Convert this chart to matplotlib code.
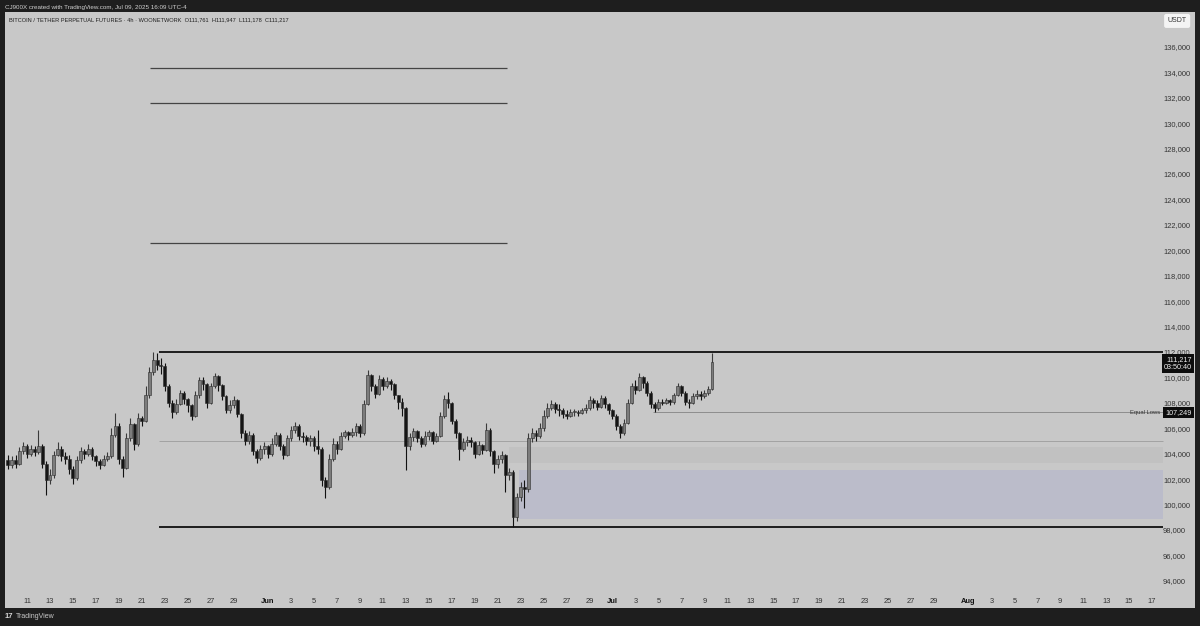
import matplotlib
matplotlib.use("Agg")
import matplotlib.pyplot as plt
import matplotlib.transforms as mtransforms
from datetime import datetime, timedelta

plt.rcParams['font.family'] = ['Liberation Sans', 'DejaVu Sans']

# 8h candles, BTC/USDT perp, prices in thousands of USDT
first_open = 103.5
closes = [
    103.1, 103.5, 103.2, 104.2, 104.6, 104.0, 104.4, 104.1, 104.6, 103.2,
    101.9, 102.3, 103.9, 104.4, 103.8, 103.6, 102.8, 102.1, 103.5, 104.2,
    104.0, 104.4, 103.8, 103.4, 103.1, 103.6, 103.8, 105.5, 106.2, 103.6,
    102.9, 105.2, 106.3, 104.8, 106.8, 106.6, 108.6, 110.4, 111.4, 111.0,
    110.9, 109.3, 108.0, 107.3, 107.9, 108.8, 108.3, 107.8, 107.0, 108.6,
    109.8, 109.5, 108.0, 109.3, 110.1, 109.4, 108.5, 107.4, 107.8, 108.2,
    107.1, 105.6, 105.0, 105.5, 104.2, 103.7, 104.4, 104.6, 104.0, 104.8,
    105.5, 104.6, 103.9, 105.2, 105.9, 106.2, 105.4, 105.3, 105.0, 105.2,
    104.6, 104.4, 101.9, 101.4, 103.6, 104.8, 104.4, 105.4, 105.7, 105.5,
    105.7, 106.2, 105.6, 107.9, 110.2, 109.3, 108.7, 109.9, 109.3, 109.7,
    109.5, 108.6, 108.1, 107.6, 104.6, 105.3, 105.8, 105.2, 104.8, 105.4,
    105.7, 105.0, 105.4, 107.0, 108.3, 108.0, 106.6, 105.6, 104.4, 104.9,
    105.1, 104.9, 104.0, 104.7, 104.3, 105.9, 104.2, 103.2, 103.6, 103.9,
    102.3, 102.6, 99.0, 100.6, 101.4, 101.2, 105.2, 105.6, 105.4, 106.0,
    107.0, 107.6, 107.9, 107.5, 107.4, 107.1, 107.0, 107.3, 107.3, 107.2,
    107.4, 107.6, 108.2, 108.0, 107.7, 108.4, 107.9, 107.4, 107.0, 106.2,
    105.6, 106.4, 108.0, 109.3, 109.0, 110.0, 109.6, 108.8, 107.9, 107.6,
    108.1, 108.0, 108.2, 108.1, 108.6, 109.3, 108.8, 108.1, 108.0, 108.5,
    108.7, 108.5, 108.8, 109.1, 111.217,
]
highs = [
    103.9, 103.8, 103.9, 104.5, 104.95, 104.8, 104.7, 104.6, 105.9, 104.8,
    103.4, 102.8, 104.2, 104.95, 104.6, 104.1, 103.9, 103.0, 103.8, 104.5,
    104.4, 104.8, 104.5, 103.9, 103.6, 103.9, 104.1, 106.0, 107.2, 106.4,
    103.8, 105.6, 106.8, 106.4, 107.2, 107.0, 109.3, 110.8, 111.98, 111.9,
    111.5, 111.1, 109.5, 108.2, 108.3, 109.0, 108.9, 108.4, 107.9, 108.9,
    110.0, 110.0, 109.6, 109.6, 110.35, 110.2, 109.5, 108.6, 108.2, 108.5,
    108.3, 107.2, 105.9, 105.8, 105.6, 104.4, 104.7, 104.9, 104.7, 105.2,
    105.7, 105.6, 104.8, 105.5, 106.2, 106.5, 106.3, 105.7, 105.5, 105.5,
    105.4, 105.9, 104.5, 102.2, 104.0, 105.2, 105.0, 105.7, 105.9, 105.8,
    106.0, 106.4, 106.3, 108.2, 110.6, 110.3, 109.5, 110.2, 110.0, 110.0,
    109.9, 109.6, 108.6, 108.4, 107.7, 105.6, 106.0, 105.9, 105.4, 105.8,
    105.9, 105.8, 105.6, 107.3, 108.6, 108.85, 108.1, 106.7, 105.7, 105.2,
    105.4, 105.3, 105.0, 105.0, 104.8, 106.4, 106.0, 104.3, 103.9, 104.2,
    104.0, 102.9, 102.7, 100.9, 101.8, 101.9, 105.6, 106.0, 105.9, 106.4,
    107.4, 108.0, 108.2, 108.1, 107.9, 107.6, 107.4, 107.5, 107.5, 107.4,
    107.6, 107.9, 108.5, 108.4, 108.2, 108.6, 108.5, 108.0, 107.5, 107.1,
    106.3, 106.7, 108.3, 109.6, 109.8, 110.35, 110.1, 109.7, 108.9, 108.1,
    108.3, 108.3, 108.4, 108.3, 108.8, 109.55, 109.4, 108.9, 108.3, 108.8,
    109.0, 108.9, 109.0, 109.3, 111.947,
]
lows = [
    102.8, 102.9, 102.9, 103.1, 104.0, 103.7, 103.8, 103.8, 104.0, 102.9,
    100.75, 101.6, 102.1, 103.8, 103.4, 103.2, 102.4, 101.6, 101.9, 103.3,
    103.6, 103.8, 103.5, 103.0, 102.8, 103.0, 103.4, 103.7, 105.3, 103.2,
    102.2, 102.8, 105.0, 104.3, 104.6, 106.2, 106.5, 108.4, 110.2, 110.6,
    110.3, 108.9, 107.7, 106.8, 107.1, 107.8, 107.9, 107.3, 106.65, 106.9,
    108.4, 109.0, 107.6, 107.9, 109.2, 108.9, 108.2, 107.2, 107.2, 107.6,
    106.9, 105.2, 104.7, 104.8, 103.9, 103.25, 103.5, 104.0, 103.7, 103.8,
    104.6, 104.3, 103.6, 103.8, 105.0, 105.6, 105.1, 104.9, 104.7, 104.6,
    104.2, 104.0, 101.5, 100.55, 101.2, 103.4, 104.0, 104.3, 105.2, 105.1,
    105.3, 105.4, 105.3, 105.5, 107.8, 108.9, 108.4, 108.6, 109.0, 109.2,
    109.0, 108.3, 107.5, 107.0, 102.7, 104.3, 105.0, 104.9, 104.5, 104.6,
    105.1, 104.8, 104.9, 105.3, 106.8, 107.6, 106.3, 105.2, 103.5, 104.2,
    104.6, 104.5, 103.7, 103.9, 104.0, 104.2, 103.8, 102.45, 102.9, 103.3,
    101.0, 101.9, 98.2, 98.7, 100.3, 99.7, 101.0, 104.9, 105.0, 105.2,
    105.8, 106.8, 107.4, 107.2, 107.0, 106.8, 106.7, 106.9, 107.0, 107.0,
    107.1, 107.2, 107.4, 107.6, 107.4, 107.6, 107.6, 107.1, 106.7, 105.9,
    105.25, 105.5, 106.3, 107.9, 108.7, 108.9, 109.2, 108.5, 107.6, 107.25,
    107.4, 107.8, 107.9, 107.8, 107.9, 108.5, 108.5, 107.8, 107.6, 107.9,
    108.3, 108.2, 108.4, 108.6, 109.0,
]

# drawn levels (thousands of USDT)
range_high = 111.98
range_low = 98.2
mid_level = 105.0
equal_lows = 107.249
target_levels = [134.35, 131.6, 120.55]
light_zone = (103.3, 104.55)
blue_zone = (98.9, 102.7)

price_ticks = list(range(94000, 138000, 2000))

t0 = datetime(2025, 5, 9, 8)
times = [t0 + timedelta(hours=8 * i) for i in range(len(closes))]
opens = [first_open] + closes[:-1]

base = datetime(2025, 5, 11)
x_left = base - timedelta(days=1.916)
x_right = base + timedelta(days=101.74)
chart_end = base + timedelta(days=98.95)

fig = plt.figure(figsize=(12, 6.26), dpi=100, facecolor='#1e1e1e')
ax = fig.add_axes([5 / 1200, 18 / 626, 1190 / 1200, 596 / 626])
ax.set_facecolor('#c8c8c8')
for s in ax.spines.values():
    s.set_visible(False)

# zones
zone_start_light = datetime(2025, 6, 22, 0)
zone_start_blue = datetime(2025, 6, 22, 20)
ax.fill_between([zone_start_light, chart_end], light_zone[0] * 1000, light_zone[1] * 1000,
                color='#c1c1c1', lw=0, zorder=1)
ax.fill_between([zone_start_blue, chart_end], blue_zone[0] * 1000, blue_zone[1] * 1000,
                color='#bbbcca', lw=0, zorder=1)

# lines
line_start = datetime(2025, 5, 22, 12)
ax.hlines([range_high * 1000, range_low * 1000], line_start, chart_end, color='#111111', lw=1.3, zorder=2)
ax.hlines(mid_level * 1000, line_start, chart_end, color='#a2a2a2', lw=0.7, zorder=2)
ax.hlines([v * 1000 for v in target_levels], datetime(2025, 5, 21, 17), datetime(2025, 6, 21, 19),
          color='#444444', lw=0.9, zorder=2)
ax.hlines(equal_lows * 1000, datetime(2025, 7, 4, 13), chart_end, color='#8e8e8e', lw=0.7, zorder=2)

# candles
width = timedelta(hours=6)
for t, o, h, l, c in zip(times, opens, highs, lows, closes):
    up = c >= o
    body_col = '#7c7c7c' if up else '#151515'
    ax.vlines(t, l * 1000, h * 1000, color='#3a3a3a' if up else '#111111', lw=0.8, zorder=3)
    ax.bar(t, max(abs(c - o), 0.08) * 1000, bottom=min(o, c) * 1000, width=width,
           color=body_col, edgecolor='#2a2a2a', lw=0.4, zorder=4)

ax.set_xlim(x_left, x_right)
ax.set_ylim(91866, 138740)

# price scale inside on the right
ax.yaxis.tick_right()
ax.set_yticks(price_ticks)
ax.set_yticklabels([f"{v:,}" for v in price_ticks])
ax.tick_params(axis='y', length=0, pad=-23, labelsize=5.4, labelcolor='#333333')

# date scale
xt, xl = [], []
for month, name, last in [(5, None, 29), (6, 'Jun', 29), (7, 'Jul', 29), (8, 'Aug', 17)]:
    start = 11 if month == 5 else 1
    for d in range(start, last + 1, 2):
        xt.append(datetime(2025, month, d))
        xl.append(name if d == 1 else str(d))
ax.set_xticks(xt)
ax.set_xticklabels(xl)
ax.tick_params(axis='x', length=0, pad=-7, labelsize=5.4, labelcolor='#333333')
for lab in ax.get_xticklabels():
    if lab.get_text() in ('Jun', 'Jul', 'Aug'):
        lab.set_fontweight('bold')
        lab.set_color('#111111')

# price labels
blend = mtransforms.blended_transform_factory(ax.transAxes, ax.transData)
ax.annotate("111,217\n03:50:40", xy=(0.9985, closes[-1] * 1000), xycoords=blend,
            xytext=(-1, 4), textcoords='offset points', ha='right', va='top',
            fontsize=5.2, color='#eeeeee', linespacing=1.05, zorder=6,
            bbox=dict(boxstyle='square,pad=0.3', fc='#0d0d0d', ec='none'))
ax.text(0.9975, equal_lows * 1000, "107,249", transform=blend, ha='right', va='center',
        fontsize=5.2, color='#eeeeee', zorder=6,
        bbox=dict(boxstyle='square,pad=0.3', fc='#0d0d0d', ec='none'))
ax.text(0.9706, equal_lows * 1000, "Equal Lows", transform=blend, ha='right', va='center',
        fontsize=4.2, color='#333333', zorder=6)
ax.text(0.985, 0.985, "USDT", transform=ax.transAxes, ha='center', va='center',
        fontsize=5, color='#333333', zorder=6,
        bbox=dict(boxstyle='round,pad=0.5,rounding_size=0.3', fc='#f4f4f4', ec='none'))

# headers
fig.text(5 / 1200, 1 - 7 / 626, "CJ900X created with TradingView.com, Jul 09, 2025 16:09 UTC-4",
         ha='left', va='center', fontsize=4.5, color='#d0d0d0')
fig.text(9 / 1200, 1 - 20 / 626,
         "BITCOIN / TETHER PERPETUAL FUTURES · 4h · WOONETWORK  O111,761  H111,947  L111,178  C111,217",
         ha='left', va='center', fontsize=4.1, color='#1e1e1e')
fig.text(5 / 1200, 1 - 617 / 626, "17", ha='left', va='center', fontsize=5.5,
         fontweight='bold', color='#d8d8d8')
fig.text(16 / 1200, 1 - 617 / 626, "TradingView", ha='left', va='center', fontsize=5,
         color='#c8c8c8')

fig.savefig('out.png', dpi=100, facecolor=fig.get_facecolor())
